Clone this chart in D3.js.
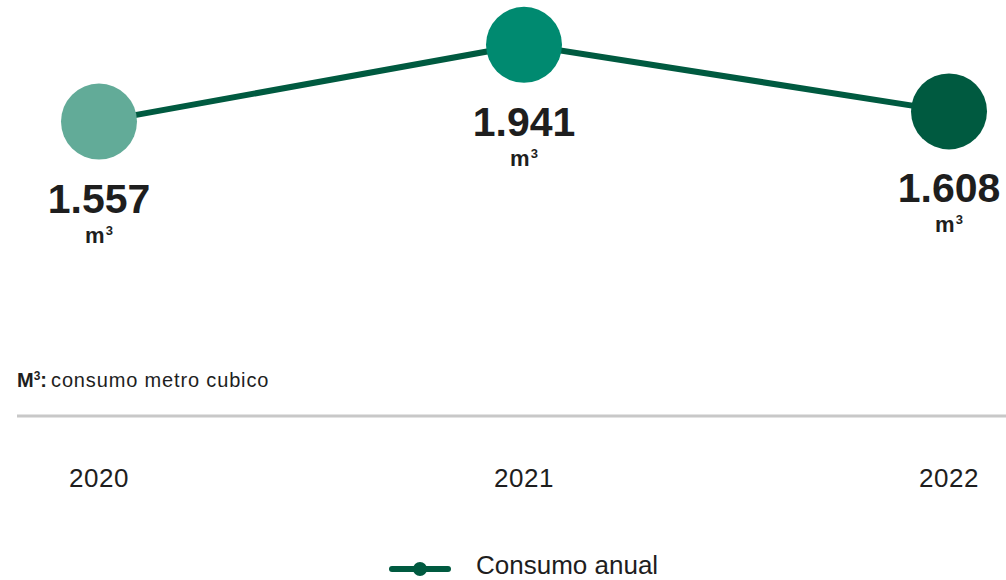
<!DOCTYPE html>
<html>
<head>
<meta charset="utf-8">
<script src="https://cdn.jsdelivr.net/npm/d3@7"></script>
<style>
  body { margin: 0; background: #fff; }
  text { font-family: "Liberation Sans", Arial, sans-serif; }
</style>
</head>
<body>
<div id="chart"></div>
<script>
// data
const years = ["2020", "2021", "2022"];
const consumo = [1557, 1941, 1608];
const labels = ["1.557", "1.941", "1.608"];
const dotColors = ["#62ab98", "#008a70", "#005a40"];

const width = 1006, height = 580;
const lineColor = "#005a40";

const svg = d3.select("#chart").append("svg")
    .attr("width", width)
    .attr("height", height);

const x = d3.scalePoint()
    .domain(years)
    .range([99, 949]);

const y = d3.scaleLinear()
    .domain([1500, 2000])
    .range([133, 33]);

const pts = years.map((yr, i) => ({year: yr, value: consumo[i], label: labels[i], color: dotColors[i]}));

// line
svg.append("path")
    .datum(pts)
    .attr("fill", "none")
    .attr("stroke", lineColor)
    .attr("stroke-width", 6)
    .attr("d", d3.line().x(d => x(d.year)).y(d => y(d.value)));

// dots
svg.selectAll("circle.dot")
    .data(pts)
    .enter().append("circle")
    .attr("class", "dot")
    .attr("cx", d => x(d.year))
    .attr("cy", d => y(d.value))
    .attr("r", 38)
    .attr("fill", d => d.color);

// value labels
const lab = svg.selectAll("g.lab")
    .data(pts)
    .enter().append("g")
    .attr("class", "lab")
    .attr("transform", d => `translate(${x(d.year)},${y(d.value) + 91})`);

lab.append("text")
    .attr("text-anchor", "middle")
    .style("font-size", "41px")
    .style("font-weight", "bold")
    .attr("fill", "#1e1e1e")
    .text(d => d.label);

const unit = lab.append("text")
    .attr("y", 30)
    .attr("text-anchor", "middle")
    .style("font-size", "22px")
    .style("font-weight", "bold")
    .attr("fill", "#1e1e1e");
unit.append("tspan").text("m");
unit.append("tspan").attr("dy", -8).attr("dx", 1).style("font-size", "13px").text("3");

// note
const note = svg.append("text")
    .attr("x", 17)
    .attr("y", 387)
    .style("font-size", "20px")
    .attr("fill", "#1e1e1e");
note.append("tspan").style("font-weight", "bold").text("M");
note.append("tspan").attr("dy", -7).style("font-weight", "bold").style("font-size", "12px").text("3");
note.append("tspan").attr("dy", 7).style("font-weight", "bold").text(":");
note.append("tspan").attr("dx", 4).style("letter-spacing", "0.85px").text("consumo metro cubico");

// axis line + year ticks
svg.append("line")
    .attr("x1", 17).attr("x2", width)
    .attr("y1", 416).attr("y2", 416)
    .attr("stroke", "#c8c8c8")
    .attr("stroke-width", 3);

svg.selectAll("text.year")
    .data(years)
    .enter().append("text")
    .attr("class", "year")
    .attr("x", d => x(d))
    .attr("y", 487)
    .attr("text-anchor", "middle")
    .style("font-size", "26px")
    .style("letter-spacing", "0.5px")
    .attr("fill", "#1e1e1e")
    .text(d => d);

// legend
const leg = svg.append("g").attr("transform", "translate(392,569)");
leg.append("line")
    .attr("x1", 0).attr("x2", 56)
    .attr("stroke", lineColor)
    .attr("stroke-width", 6)
    .attr("stroke-linecap", "round");
leg.append("circle")
    .attr("cx", 28)
    .attr("r", 7)
    .attr("fill", lineColor);
leg.append("text")
    .attr("x", 84)
    .attr("y", 5)
    .style("font-size", "26px")
    .attr("fill", "#1e1e1e")
    .text("Consumo anual");
</script>
</body>
</html>
